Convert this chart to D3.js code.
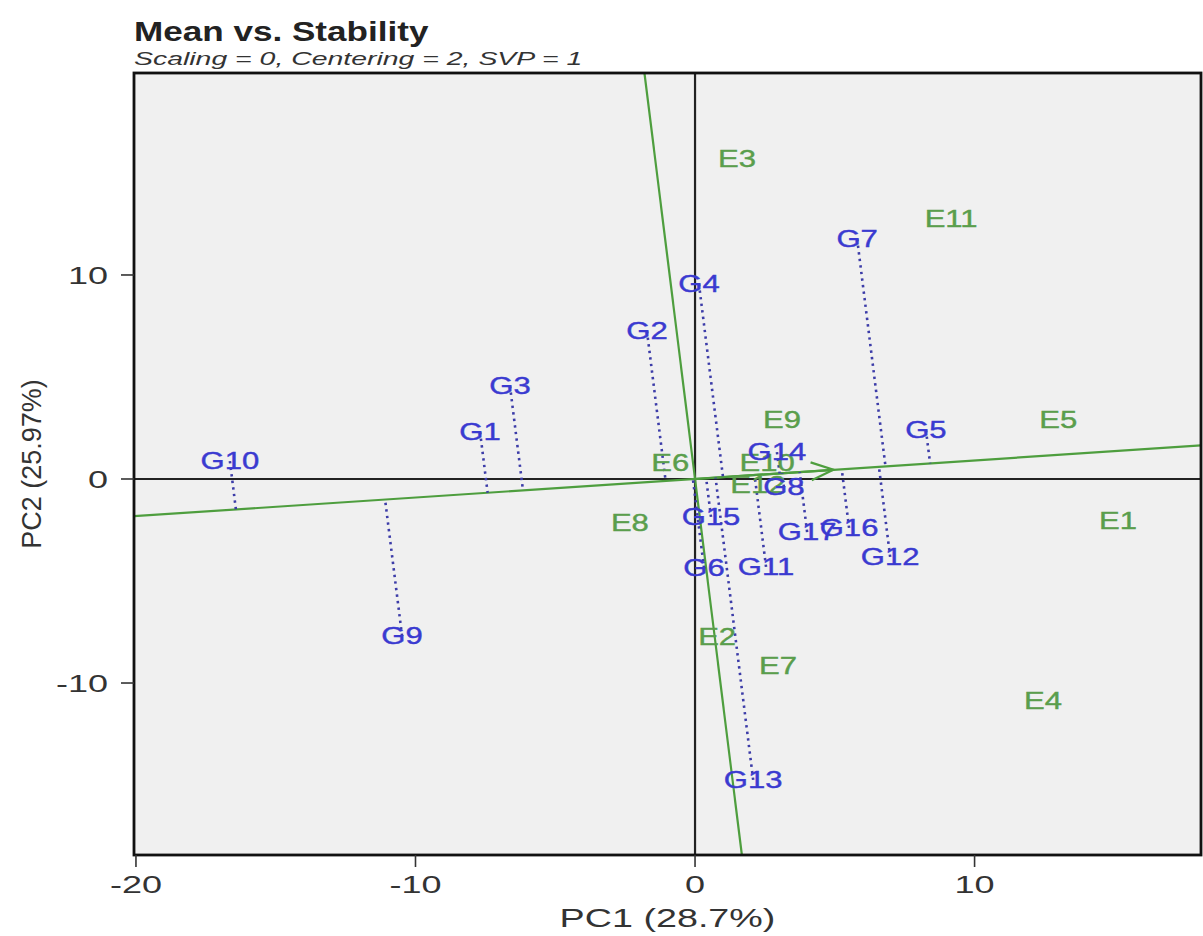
<!DOCTYPE html>
<html>
<head>
<meta charset="utf-8">
<script src="https://cdn.jsdelivr.net/npm/d3@7"></script>
<style>
  html, body { margin: 0; padding: 0; background: #fff; }
  text { font-family: "Liberation Sans", Arial, sans-serif; }
</style>
</head>
<body>
<div id="chart"></div>
<script>
// genotype scores (PC1, PC2)
const genotypes = ["G1", "G2", "G3", "G4", "G5", "G6", "G7", "G8", "G9", "G10",
                   "G11", "G12", "G13", "G14", "G15", "G16", "G17"];
const genoPC1 = [-7.69, -1.72, -6.62, 0.14, 8.26, 0.32, 5.80, 3.18, -10.48, -16.64,
                 2.54, 6.98, 2.08, 2.93, 0.57, 5.51, 4.01];
const genoPC2 = [2.30, 7.25, 4.56, 9.56, 2.40, -4.36, 11.76, -0.39, -7.70, 0.88,
                 -4.31, -3.82, -14.75, 1.32, -1.86, -2.40, -2.60];

// environment scores (PC1, PC2)
const environments = ["E1", "E2", "E3", "E4", "E5", "E6", "E7", "E8", "E9", "E10", "E11", "E12"];
const envPC1 = [15.13, 0.79, 1.50, 12.45, 12.99, -0.89, 2.97, -2.33, 3.11, 2.58, 9.16, 2.25];
const envPC2 = [-2.06, -7.75, 15.69, -10.88, 2.89, 0.78, -9.17, -2.16, 2.89, 0.78, 12.75, -0.29];

// average environment (arrow tip of the AEA)
const aeaTip = [4.95, 0.45];

const xTicks = [-20, -10, 0, 10];
const yTicks = [-10, 0, 10];
const xDomain = [-20.07, 18.1];
const yDomain = [-18.43, 19.9];

const width = 1203, height = 936;
const pL = 134, pT = 73, pR = 1201, pB = 855;

const svg = d3.select("#chart").append("svg")
    .attr("width", width)
    .attr("height", height);

const x = d3.scaleLinear().domain(xDomain).range([pL, pR]);
const y = d3.scaleLinear().domain(yDomain).range([pB, pT]);

svg.append("defs").append("clipPath").attr("id", "plotclip")
    .append("rect")
    .attr("x", pL).attr("y", pT)
    .attr("width", pR - pL).attr("height", pB - pT);

// plot background
svg.append("rect")
    .attr("x", pL).attr("y", pT)
    .attr("width", pR - pL).attr("height", pB - pT)
    .attr("fill", "#f0f0f0");

const plot = svg.append("g").attr("clip-path", "url(#plotclip)");

// axes through the origin
plot.append("line")
    .attr("x1", x(xDomain[0])).attr("x2", x(xDomain[1]))
    .attr("y1", y(0)).attr("y2", y(0))
    .attr("stroke", "#222").attr("stroke-width", 2.2);
plot.append("line")
    .attr("x1", x(0)).attr("x2", x(0))
    .attr("y1", y(yDomain[0])).attr("y2", y(yDomain[1]))
    .attr("stroke", "#222").attr("stroke-width", 2.2);

// AEA abscissa and ordinate
const len = Math.hypot(aeaTip[0], aeaTip[1]);
const ux = aeaTip[0] / len, uy = aeaTip[1] / len;
const slope = uy / ux;
const green = "#4e9e3e";

plot.append("line")
    .attr("x1", x(xDomain[0])).attr("y1", y(xDomain[0] * slope))
    .attr("x2", x(xDomain[1])).attr("y2", y(xDomain[1] * slope))
    .attr("stroke", green).attr("stroke-width", 2.2);
plot.append("line")
    .attr("x1", x(-yDomain[1] * slope)).attr("y1", y(yDomain[1]))
    .attr("x2", x(-yDomain[0] * slope)).attr("y2", y(yDomain[0]))
    .attr("stroke", green).attr("stroke-width", 2.2);

// arrow to the average environment
const tipX = x(aeaTip[0]), tipY = y(aeaTip[1]);
const ang = Math.atan2(tipY - y(0), tipX - x(0));
const headLen = 24, headAng = 0.38;
plot.append("line")
    .attr("x1", x(0)).attr("y1", y(0))
    .attr("x2", tipX).attr("y2", tipY)
    .attr("stroke", green).attr("stroke-width", 2.2);
plot.append("path")
    .attr("d", d3.line()([
        [tipX - headLen * Math.cos(ang - headAng), tipY - headLen * Math.sin(ang - headAng)],
        [tipX, tipY],
        [tipX - headLen * Math.cos(ang + headAng), tipY - headLen * Math.sin(ang + headAng)]
    ]))
    .attr("fill", "none")
    .attr("stroke", green).attr("stroke-width", 2.2);

// genotype projections onto the AEA
const geno = genotypes.map((g, i) => ({ name: g, pc1: genoPC1[i], pc2: genoPC2[i] }));
const env = environments.map((e, i) => ({ name: e, pc1: envPC1[i], pc2: envPC2[i] }));

plot.selectAll(".proj")
    .data(geno)
    .enter().append("line")
    .attr("class", "proj")
    .attr("x1", d => x(d.pc1))
    .attr("y1", d => y(d.pc2))
    .attr("x2", d => x((d.pc1 * ux + d.pc2 * uy) * ux))
    .attr("y2", d => y((d.pc1 * ux + d.pc2 * uy) * uy))
    .attr("stroke", "#3c3ca8")
    .attr("stroke-width", 2.6)
    .attr("stroke-dasharray", "2.4,4.2");

// labels
const sx = 1.35;
plot.selectAll(".env")
    .data(env)
    .enter().append("text")
    .attr("class", "env")
    .attr("transform", d => `translate(${x(d.pc1)},${y(d.pc2)}) scale(${sx},1)`)
    .attr("text-anchor", "middle")
    .attr("dy", "0.36em")
    .attr("font-size", 23)
    .attr("fill", "#5a9e4c")
    .attr("stroke", "#5a9e4c").attr("stroke-width", 0.4)
    .text(d => d.name);

plot.selectAll(".geno")
    .data(geno)
    .enter().append("text")
    .attr("class", "geno")
    .attr("transform", d => `translate(${x(d.pc1)},${y(d.pc2)}) scale(${sx},1)`)
    .attr("text-anchor", "middle")
    .attr("dy", "0.36em")
    .attr("font-size", 23)
    .attr("fill", "#3a3ad0")
    .attr("stroke", "#3a3ad0").attr("stroke-width", 0.4)
    .text(d => d.name);

// frame
svg.append("rect")
    .attr("x", pL).attr("y", pT)
    .attr("width", pR - pL).attr("height", pB - pT)
    .attr("fill", "none")
    .attr("stroke", "#111").attr("stroke-width", 2.8);

// x axis ticks
const xa = svg.append("g");
xa.selectAll("line")
    .data(xTicks)
    .enter().append("line")
    .attr("x1", d => x(d)).attr("x2", d => x(d))
    .attr("y1", pB).attr("y2", pB + 12)
    .attr("stroke", "#333").attr("stroke-width", 1.6);
xa.selectAll("text")
    .data(xTicks)
    .enter().append("text")
    .attr("transform", d => `translate(${x(d)},${pB + 38}) scale(1.5,1)`)
    .attr("text-anchor", "middle")
    .attr("font-size", 24)
    .attr("fill", "#333")
    .text(d => d);

// y axis ticks
const ya = svg.append("g");
ya.selectAll("line")
    .data(yTicks)
    .enter().append("line")
    .attr("x1", pL - 13).attr("x2", pL)
    .attr("y1", d => y(d)).attr("y2", d => y(d))
    .attr("stroke", "#333").attr("stroke-width", 1.6);
ya.selectAll("text")
    .data(yTicks)
    .enter().append("text")
    .attr("transform", d => `translate(${pL - 26},${y(d)}) scale(1.5,1)`)
    .attr("text-anchor", "end")
    .attr("dy", "0.36em")
    .attr("font-size", 24)
    .attr("fill", "#333")
    .text(d => d);

// axis titles
svg.append("text")
    .attr("transform", `translate(${(pL + pR) / 2},${pB + 72}) scale(1.45,1)`)
    .attr("text-anchor", "middle")
    .attr("font-size", 26)
    .attr("fill", "#333")
    .text("PC1 (28.7%)");

svg.append("text")
    .attr("transform", `translate(41,${(pT + pB) / 2}) rotate(-90)`)
    .attr("text-anchor", "middle")
    .attr("font-size", 27)
    .attr("fill", "#333")
    .text("PC2 (25.97%)");

// title and subtitle
svg.append("text")
    .attr("transform", `translate(${pL},41) scale(1.3,1)`)
    .attr("font-size", 27)
    .attr("font-weight", "bold")
    .attr("fill", "#222")
    .text("Mean vs. Stability");

svg.append("text")
    .attr("transform", `translate(${pL},65) scale(1.58,1)`)
    .attr("font-size", 18)
    .attr("font-style", "italic")
    .attr("fill", "#333")
    .text("Scaling = 0, Centering = 2, SVP = 1");
</script>
</body>
</html>
